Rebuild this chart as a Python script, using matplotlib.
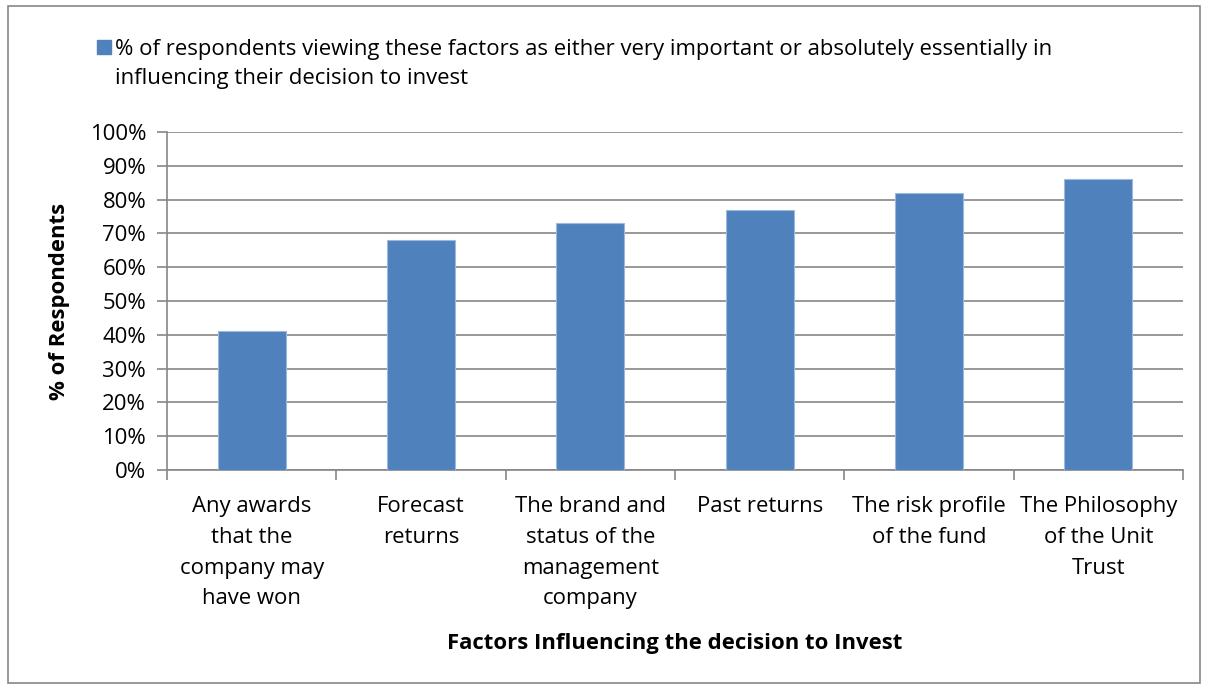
import numpy as np
import matplotlib.pyplot as plt
from matplotlib.patches import Rectangle
from matplotlib.ticker import PercentFormatter, FixedLocator

plt.rcParams['font.family'] = ['Open Sans', 'DejaVu Sans']

categories = ["Any awards\nthat the\ncompany may\nhave won",
              "Forecast\nreturns",
              "The brand and\nstatus of the\nmanagement\ncompany",
              "Past returns",
              "The risk profile\nof the fund",
              "The Philosophy\nof the Unit\nTrust"]
values = [41, 68, 73, 77, 82, 86]
series_label = ("% of respondents viewing these factors as either very important or absolutely essentially in\n"
                "influencing their decision to invest")

FontSize = 15.9
barColor = '#4F81BD'
gridColor = '#868686'

W, H = 1208, 689
fig = plt.figure(figsize=(W / 100, H / 100), dpi=100)
ax = fig.add_axes([167 / W, 1 - 470 / H, (1183 - 167) / W, (470 - 132) / H])

x = np.arange(len(categories))
ax.bar(x, values, width=0.4, color=barColor, edgecolor='#9DB9DC', linewidth=0.8, zorder=3)

ax.set_xlim(-0.5, len(categories) - 0.5)
ax.set_ylim(0, 100)
ax.set_yticks(np.arange(0, 101, 10))
ax.yaxis.set_major_formatter(PercentFormatter(decimals=0))
ax.yaxis.grid(True, color=gridColor, linewidth=1.2, zorder=0)

ax.set_xticks(x)
ax.set_xticklabels(categories, fontsize=FontSize, linespacing=1.6, va='top')
ax.xaxis.set_minor_locator(FixedLocator(np.arange(-0.5, len(categories), 1)))
ax.tick_params(axis='x', which='major', length=0, pad=19)
ax.tick_params(axis='x', which='minor', length=7, color=gridColor, width=1.2)
ax.tick_params(axis='y', length=7, color=gridColor, width=1.2, labelsize=FontSize, pad=8)

for s in ['top', 'right']:
    ax.spines[s].set_visible(False)
for s in ['left', 'bottom']:
    ax.spines[s].set_color(gridColor)
    ax.spines[s].set_linewidth(1.2)

ax.set_ylabel('% of Respondents', fontsize=FontSize, fontweight='bold', labelpad=14)
fig.text(675 / W, 1 - 643 / H, 'Factors Influencing the decision to Invest',
         fontsize=FontSize, fontweight='bold', ha='center', va='center')

# legend drawn by hand so the square sits on the first line
fig.patches.append(Rectangle((97 / W, 1 - 54 / H), 14 / W, 14 / H,
                             transform=fig.transFigure, color=barColor))
fig.text(115 / W, 1 - 64 / H, series_label, fontsize=FontSize, linespacing=1.45,
         ha='left', va='center', transform=fig.transFigure)

# outer chart border
fig.patches.append(Rectangle((8 / W, 6 / H), 1192 / W, 677 / H, transform=fig.transFigure,
                             fill=False, edgecolor='#868686', linewidth=1.2))

fig.savefig('out.png', dpi=100)
